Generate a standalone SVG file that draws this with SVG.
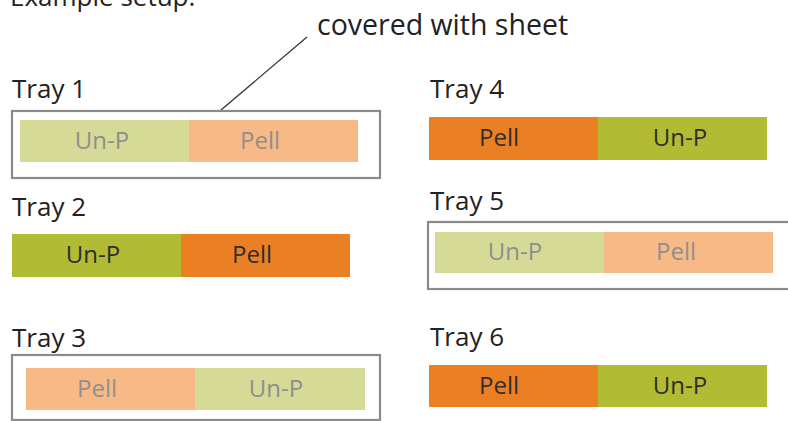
<svg xmlns="http://www.w3.org/2000/svg" width="788" height="421" viewBox="0 0 788 421">
<defs>
<style>
text{font-family:"Open Sans","Noto Sans","Liberation Sans",sans-serif}
.title{font-size:26px;fill:#222}
.lbl{font-size:24px;text-anchor:middle}
.dark{fill:#2e2e2e}
.light{fill:#8f8f8f}
.olive{fill:#b1bb33}
.orange{fill:#eb7f24}
.lgreen{fill:#d5da97}
.lorange{fill:#f7ba86}
.sheet{fill:none;stroke:#8a8a8a;stroke-width:2.2}
.leader{stroke:#333;stroke-width:1.3;fill:none}
</style>
</defs>
<rect width="788" height="421" fill="#fff"/>
<text class="title" x="10" y="6">Example setup:</text>
<text class="title" x="317" y="35" style="font-size:28.5px">covered with sheet</text>
<g id="connectors">
<line class="leader" x1="307" y1="37" x2="221" y2="110"/>
</g>
<g id="tray1">
<text class="title" x="12" y="98">Tray 1</text>
<rect class="sheet" x="12" y="111" width="368" height="67"/>
<rect class="lgreen" x="20" y="120" width="169" height="42"/>
<rect class="lorange" x="189" y="120" width="169" height="42"/>
<text class="lbl light" x="102" y="149">Un-P</text>
<text class="lbl light" x="260" y="149">Pell</text>
</g>
<g id="tray2">
<text class="title" x="12" y="216">Tray 2</text>
<rect class="olive" x="12" y="234" width="169" height="43"/>
<rect class="orange" x="181" y="234" width="169" height="43"/>
<text class="lbl dark" x="93" y="263">Un-P</text>
<text class="lbl dark" x="252" y="263">Pell</text>
</g>
<g id="tray3">
<text class="title" x="12" y="347">Tray 3</text>
<rect class="sheet" x="12" y="355" width="368" height="65"/>
<rect class="lorange" x="26" y="368" width="169" height="42"/>
<rect class="lgreen" x="195" y="368" width="170" height="42"/>
<text class="lbl light" x="97" y="397">Pell</text>
<text class="lbl light" x="276" y="397">Un-P</text>
</g>
<g id="tray4">
<text class="title" x="430" y="98">Tray 4</text>
<rect class="orange" x="429" y="117" width="169" height="43"/>
<rect class="olive" x="598" y="117" width="169" height="43"/>
<text class="lbl dark" x="499" y="146">Pell</text>
<text class="lbl dark" x="680" y="146">Un-P</text>
</g>
<g id="tray5">
<text class="title" x="430" y="210">Tray 5</text>
<rect class="sheet" x="428" y="222" width="370" height="67"/>
<rect class="lgreen" x="435" y="232" width="169" height="41"/>
<rect class="lorange" x="604" y="232" width="169" height="41"/>
<text class="lbl light" x="515" y="260">Un-P</text>
<text class="lbl light" x="676" y="260">Pell</text>
</g>
<g id="tray6">
<text class="title" x="430" y="346">Tray 6</text>
<rect class="orange" x="429" y="365" width="169" height="42"/>
<rect class="olive" x="598" y="365" width="169" height="42"/>
<text class="lbl dark" x="499" y="394">Pell</text>
<text class="lbl dark" x="680" y="394">Un-P</text>
</g>
</svg>
